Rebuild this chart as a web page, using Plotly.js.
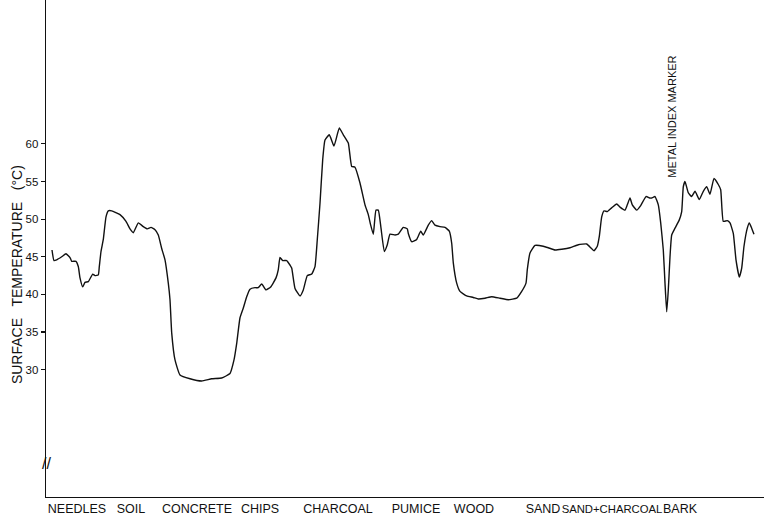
<!DOCTYPE html>
<html>
<head>
<meta charset="utf-8">
<script src="https://cdn.plot.ly/plotly-3.0.1.min.js"></script>
<style>html,body{margin:0;padding:0;background:#fff;}#chart{width:764px;height:522px;}</style>
</head>
<body>
<div id="chart"></div>
<script>
// Position along the traverse (arbitrary distance units) and surface temperature (°C)
const position = [6,8,10.7,15.7,20,24,25.7,30,32.3,34,36.7,39,42.3,46.7,49,52.3,53.3,55,57.3,60,62.3,65.7,74,80,84,87.3,92.3,97.3,101.3,105,109,112.3,115.7,119,122.3,124,
125.7,129,134,144,155.7,165.7,175.7,184,188,190.7,194,197.3,200.7,204,209,212.3,215.7,220,224.7,230,232.3,234,236.7,240.7,244,
245.7,249,254,257.3,261.3,265.7,269,271.3,274,276.7,279,283.3,288,293.3,297.3,302.3,305.7,309,314,319,322.3,324.7,327.3,330,332.3,335,338.3,341.3,344,349,352.3,357.3,361.3,
362.3,365.7,370.7,374.7,377.3,382.3,385.7,389,394,399,403.3,405.7,407.3,410.7,414,420.7,427.3,432.3,439,445.7,454,462.3,470.7,475.7,480,
481.3,484,489,497.3,502.3,509,515.7,524,532.3,540.7,544.7,548,551.3,553.3,555.7,558,561.3,565.7,570.7,574,579,581.3,584,586.3,590.7,594.7,600,604,
605.7,609,612.3,614.7,617.3,619,620.7,622.3,624,625.7,629,633.3,635.7,637.3,639,642.3,645.7,649,653.3,657.3,660.7,664,668,672.3,674.7,677.3,681.3,684,687.3,690,693.3,695.7,698,701.3,703.3,705.7,708];
const temperature = [45.9,44.5,44.6,45.0,45.4,44.9,44.4,44.4,43.7,42.2,41.0,41.6,41.7,42.7,42.5,42.6,43.7,45.7,47.3,50.3,51.1,51.1,50.6,49.7,48.7,48.2,49.5,49.0,48.7,48.9,48.6,47.9,46.1,44.6,41.5,39.3,
34.9,31.3,29.3,28.8,28.5,28.8,28.9,29.5,31.3,33.5,36.9,38.2,39.7,40.7,40.9,40.9,41.4,40.6,41.0,42.2,43.3,44.9,44.5,44.5,43.9,
43.5,40.8,39.8,40.6,42.5,42.7,43.7,47.3,52.1,57.9,60.5,61.2,59.7,62.1,61.2,60.1,57.0,56.9,54.8,51.9,50.6,49.2,48.0,51.2,51.2,48.8,45.7,46.6,48.0,47.9,48.0,48.9,48.7,
48.1,47.0,47.3,48.4,47.9,49.2,49.8,49.2,49.0,48.9,48.4,46.8,44.2,41.5,40.4,39.8,39.6,39.4,39.5,39.7,39.5,39.3,39.5,40.4,41.5,
43.3,45.5,46.5,46.4,46.2,45.9,46.0,46.2,46.6,46.7,46.2,45.8,46.4,47.7,50.3,51.1,51.0,51.5,52.0,51.6,51.2,51.9,52.8,51.9,51.2,51.8,53.0,52.8,
52.8,53.0,51.9,49.5,45.9,41.5,37.7,40.6,45.0,47.9,48.8,49.9,51.0,54.3,55.0,53.5,53.0,53.7,52.6,53.7,54.3,53.3,55.4,54.6,53.9,49.7,49.8,49.5,48.1,44.6,42.3,43.5,46.4,48.8,49.5,48.8,48.0];

const surfaceLabels = ["NEEDLES","SOIL","CONCRETE","CHIPS","CHARCOAL","PUMICE","WOOD","SAND","SAND+CHARCOAL","BARK"];
const surfacePositions = [31,85,151,214,292,370,428,497,566,634];
const tempTicks = [30,35,40,45,50,55,60];
const markerPosition = 626;
const markerLabel = "METAL INDEX MARKER";

const font = "Liberation Sans, Arial, sans-serif";

// long label drawn slightly smaller so it fits between its neighbours, as in the original
const tickText = surfaceLabels.map(s => s.length > 10
  ? "<span style=\"font-size:11.3px\">" + s + "</span>" : s);

const trace = {
  x: position, y: temperature, type: "scatter", mode: "lines",
  line: {color: "#111", width: 1.4, shape: "spline", smoothing: 0.4},
  hoverinfo: "skip", showlegend: false
};

const layout = {
  width: 764, height: 522,
  margin: {l: 46, r: 0, t: 0, b: 25, pad: 0},
  paper_bgcolor: "#fff", plot_bgcolor: "#fff",
  font: {family: font, color: "#111", size: 12},
  xaxis: {
    range: [0, 718], showgrid: false, zeroline: false,
    showline: true, linecolor: "#111", linewidth: 1.4,
    tickmode: "array", tickvals: surfacePositions, ticktext: tickText,
    tickangle: 0, automargin: false,
    ticks: "", ticklen: 0, tickfont: {family: font, size: 12.5, color: "#111"}
  },
  yaxis: {
    range: [13.1, 79.1], showgrid: false, zeroline: false,
    showline: true, linecolor: "#111", linewidth: 1.4, automargin: false,
    tickmode: "array", tickvals: tempTicks, ticktext: tempTicks.map(String),
    ticks: "outside", ticklen: 4, tickwidth: 1.2, tickcolor: "#111",
    tickfont: {family: font, size: 11.5, color: "#111"}
  },
  annotations: [
    {xref: "paper", yref: "paper", x: -0.04, y: 0.447, xanchor: "center", yanchor: "middle",
     text: "SURFACE   TEMPERATURE   (°C)", textangle: -90, showarrow: false,
     font: {family: font, size: 14, color: "#111"}},
    {xref: "x", yref: "y", x: markerPosition, y: 63.6, xanchor: "center", yanchor: "middle",
     text: markerLabel, textangle: -90, showarrow: false,
     font: {family: font, size: 11, color: "#111"}},
    {xref: "paper", yref: "paper", x: 0, y: 0.068, xanchor: "center", yanchor: "middle",
     text: "//", showarrow: false, font: {family: font, size: 16, color: "#111"}}
  ]
};

Plotly.newPlot("chart", [trace], layout, {displayModeBar: false, staticPlot: true});
</script>
</body>
</html>
